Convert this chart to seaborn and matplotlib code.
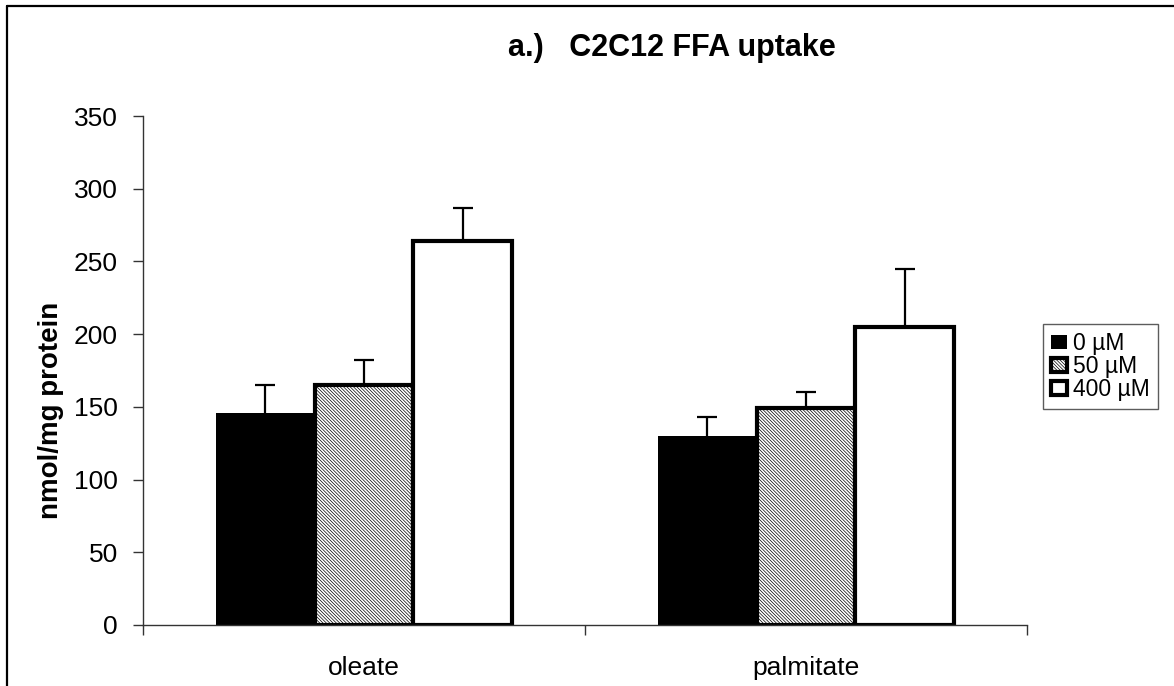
import matplotlib
matplotlib.use("Agg")
import matplotlib.pyplot as plt
from matplotlib.lines import Line2D
import seaborn as sns
import pandas as pd
import numpy as np

# ---- data ----
substrates = ["oleate", "palmitate"]
conc_labels = ["0 µM", "50 µM", "400 µM"]
uptake_0 = [146, 130]
uptake_50 = [165, 149]
uptake_400 = [264, 205]
sem_0 = [19, 13]
sem_50 = [17, 11]
sem_400 = [23, 40]
yticks = [0, 50, 100, 150, 200, 250, 300, 350]
title = "a.)   C2C12 FFA uptake"
ylabel = "nmol/mg protein"

sns.set_style("white")
plt.rcParams["font.family"] = ["Liberation Sans", "DejaVu Sans"]
plt.rcParams["hatch.linewidth"] = 0.5
plt.rcParams["text.color"] = "black"
plt.rcParams["xtick.color"] = "black"
plt.rcParams["ytick.color"] = "black"

values = [uptake_0, uptake_50, uptake_400]
errs = [sem_0, sem_50, sem_400]
rows = []
for ci, c in enumerate(conc_labels):
    for si, s in enumerate(substrates):
        rows.append({"substrate": s, "conc": c, "value": values[ci][si]})
df = pd.DataFrame(rows)

fig = plt.figure(figsize=(11.74, 6.86), dpi=100)
ax = fig.add_axes([143 / 1174, 1 - 625 / 686, (1027 - 143) / 1174, (625 - 116) / 686])

sns.barplot(data=df, x="substrate", y="value", hue="conc", order=substrates,
            hue_order=conc_labels, palette=["black", "white", "white"],
            saturation=1, errorbar=None, width=0.67, edgecolor="black",
            linewidth=3, ax=ax, legend=False)

bar_containers = list(ax.containers)
for ci, cont in enumerate(bar_containers):
    for bar in cont:
        if ci == 1:
            bar.set_hatch("\\" * 10)
        if ci == 0:
            bar.set_linewidth(0)
for ci, cont in enumerate(bar_containers):
    xs = np.array([b.get_x() + b.get_width() / 2 for b in cont])
    ys = np.array([b.get_height() for b in cont])
    tops = ys + np.array(errs[ci])
    ax.vlines(xs, ys, tops, colors="black", lw=1.6, zorder=0.5)
    ax.plot(xs, tops, ls="none", marker="_", markersize=14, mew=1.6,
            color="black", zorder=0.5)

ax.set_ylim(0, 350)
ax.set_xlim(-0.5, 1.5)
ax.set_yticks(yticks)
ax.set_xticks(range(len(substrates)))
ax.set_xticklabels(substrates, fontsize=19)
ax.set_xticks([-0.5, 0.5, 1.5], minor=True)
for lab in ax.get_yticklabels():
    lab.set_fontsize(19)
ax.tick_params(axis="y", which="major", direction="out", length=7, width=1,
               color="#333333", pad=11, left=True)
ax.tick_params(axis="x", which="major", length=0, pad=22)
ax.tick_params(axis="x", which="minor", direction="out", length=7, width=1,
               color="#333333", bottom=True)
for side in ["top", "right"]:
    ax.spines[side].set_visible(False)
for side in ["left", "bottom"]:
    ax.spines[side].set_color("#333333")
    ax.spines[side].set_linewidth(1)
ax.set_xlabel("")
ax.set_ylabel("")

fig.text(51 / 1174, 1 - 410 / 686, ylabel, rotation=90, ha="center", va="center",
         fontsize=20, fontweight="bold")
fig.text(672 / 1174, 1 - 48 / 686, title, ha="center", va="center",
         fontsize=22, fontweight="bold")

handles = [bar_containers[i][0] for i in range(3)]
leg = fig.legend(handles, conc_labels, loc="upper left",
                 bbox_to_anchor=(1043 / 1174, 1 - 324 / 686),
                 fontsize=16.5, frameon=True, fancybox=False, shadow=False,
                 handlelength=0.7, handleheight=0.6, handletextpad=0.25,
                 labelspacing=0.0, borderpad=0.35, borderaxespad=0)
leg.get_frame().set_edgecolor("#333333")
leg.get_frame().set_linewidth(1)

# figure border (left and top visible)
fig.add_artist(Line2D([6.5 / 1174, 6.5 / 1174], [0, 1 - 5.5 / 686], color="black",
                      lw=1.6, transform=fig.transFigure))
fig.add_artist(Line2D([6.5 / 1174, 1], [1 - 5.5 / 686, 1 - 5.5 / 686], color="black",
                      lw=1.6, transform=fig.transFigure))

fig.savefig("out.png", dpi=100)
